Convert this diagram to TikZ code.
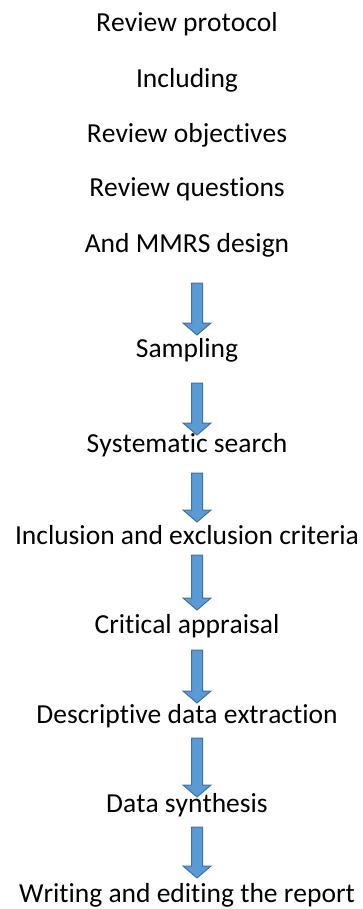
\documentclass[tikz,border=0pt]{standalone}
\usepackage{fontspec}
\setmainfont{Carlito}[Kerning=Off,Ligatures={NoCommon,NoContextual}]
\usetikzlibrary{calc}
\definecolor{arrowfill}{HTML}{5B9BD5}
\definecolor{arrowedge}{HTML}{41719C}
\tikzset{
  lbl/.style={anchor=base, inner sep=0pt, font=\fontsize{27.5}{33}\selectfont, text=black},
  barrow/.style={fill=arrowfill, draw=arrowedge, line width=1pt, line join=miter}
}
\newcommand\blockarrow[2]{%
  \path[barrow] ($(#1)+(-5.5,0)$) -- ($(#2)+(-5.5,-12)$) -- ($(#2)+(-14,-12)$) -- (#2)
    -- ($(#2)+(14,-12)$) -- ($(#2)+(5.5,-12)$) -- ($(#1)+(5.5,0)$) -- cycle;}
\begin{document}
\begin{tikzpicture}[x=1pt,y=-1pt]
\useasboundingbox (0,0) rectangle (362,909);
\node[lbl] (t1) at (187,32) {Review protocol};
\node[lbl] (t2) at (187,88) {Including};
\node[lbl] (t3) at (187,143) {Review objectives};
\node[lbl] (t4) at (187,197) {Review questions};
\node[lbl] (t5) at (187,252) {And MMRS design};
\node[lbl] (s1) at (187,357) {Sampling};
\node[lbl] (s2) at (187,452) {Systematic search};
\node[lbl] (s3) at (187,544) {Inclusion and exclusion criteria};
\node[lbl] (s4) at (187,633) {Critical appraisal};
\node[lbl] (s5) at (187,723) {Descriptive data extraction};
\node[lbl] (s6) at (187,812) {Data synthesis};
\node[lbl] (s7) at (187,902) {Writing and editing the report};
\coordinate (a1s) at (197,283); \coordinate (a1e) at (197,335);
\coordinate (a2s) at (197,383); \coordinate (a2e) at (197,435);
\coordinate (a3s) at (197,473); \coordinate (a3e) at (197,522);
\coordinate (a4s) at (197,555); \coordinate (a4e) at (197,610);
\coordinate (a5s) at (197,650); \coordinate (a5e) at (197,703);
\coordinate (a6s) at (197,738); \coordinate (a6e) at (197,797);
\coordinate (a7s) at (197,827); \coordinate (a7e) at (197,878);
\blockarrow{a1s}{a1e}
\blockarrow{a2s}{a2e}
\blockarrow{a3s}{a3e}
\blockarrow{a4s}{a4e}
\blockarrow{a5s}{a5e}
\blockarrow{a6s}{a6e}
\blockarrow{a7s}{a7e}
\end{tikzpicture}
\end{document}
